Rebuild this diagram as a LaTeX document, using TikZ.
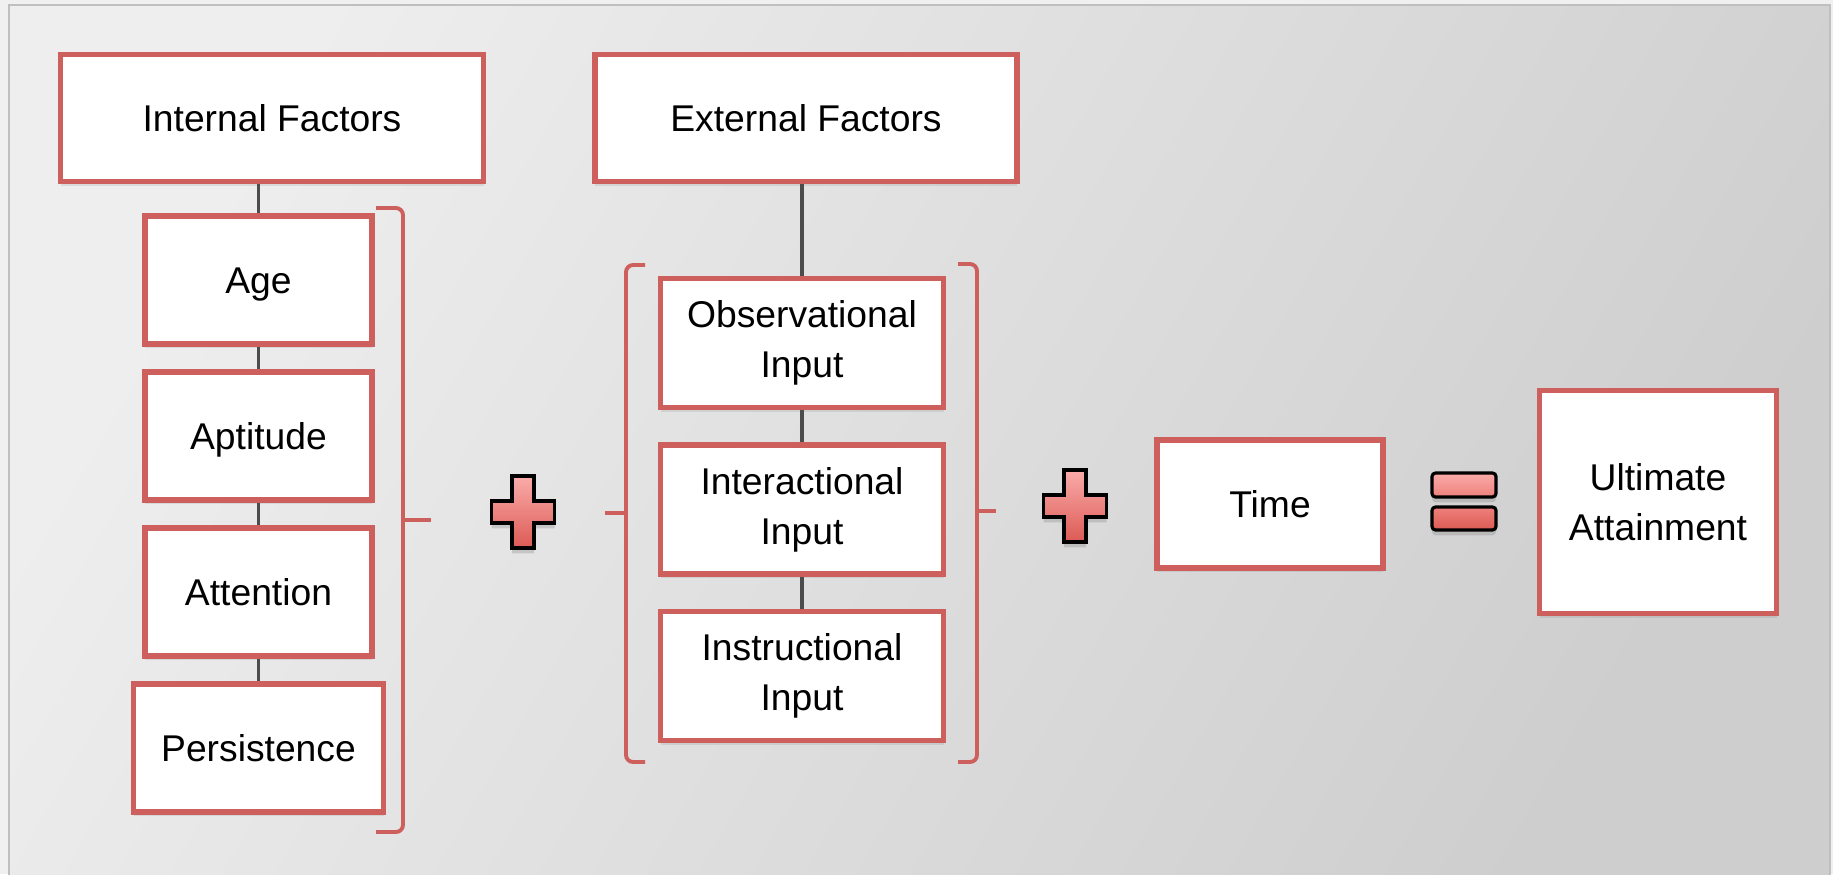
\documentclass[tikz,border=0pt]{standalone}
\usepackage{fontspec}
\setmainfont{Liberation Sans}
\usetikzlibrary{positioning, shadows}
\definecolor{boxred}{RGB}{205,96,92}
\definecolor{signtop}{RGB}{250,172,170}
\definecolor{signmid}{RGB}{238,128,124}
\definecolor{signbot}{RGB}{220,90,84}
\definecolor{bglight}{RGB}{238,238,238}
\definecolor{bgdark}{RGB}{206,206,206}
\tikzset{
	factor/.style={rectangle, draw=boxred, line width=1.5pt, fill=white, align=center,
		font=\fontsize{10.6}{14.2}\selectfont, minimum height=1.28cm,
		text height=9.2pt, text depth=1.7pt,
		drop shadow={shadow xshift=0pt, shadow yshift=-1.2pt, opacity=0.18}},
	twoline/.style={factor, text height=, text depth=},
	inputbox/.style={twoline, minimum width=2.83cm, minimum height=1.29cm},
	bracket/.style={draw=boxred, line width=1.1pt, rounded corners=2pt},
	link/.style={draw=black!70, line width=1pt},
	sign/.style={draw=black, line width=0.9pt,
		drop shadow={shadow xshift=0pt, shadow yshift=-1.5pt, opacity=0.3}}
}

\begin{document}
\begin{tikzpicture}[node distance=1.56cm]
		
		% Background panel
		\useasboundingbox (0,0) rectangle (18.33,-8.74);
		\fill[black!6] (0,0) rectangle (18.33,-8.74);
		\shade[top color=bglight, bottom color=bgdark, shading angle=60, draw=black!25, line width=0.4pt]
			(0.09,-0.05) rectangle (18.30,-8.80);
		
		% Internal factors column
		\node[factor, minimum width=4.23cm, minimum height=1.27cm] (internal) at (2.72,-1.18) {Internal Factors};
		\node[factor, minimum width=2.27cm] (age) at (2.585,-2.80) {Age};
		\node[factor, minimum width=2.27cm, below of=age] (aptitude) {Aptitude};
		\node[factor, minimum width=2.27cm, below of=aptitude] (attention) {Attention};
		\node[factor, minimum width=2.50cm, below of=attention] (persistence) {Persistence};
		
		% External factors column
		\node[factor, minimum width=4.22cm, minimum height=1.27cm] (external) at (8.06,-1.18) {External Factors};
		\node[inputbox] (observational) at (8.02,-3.43) {Observational\\Input};
		\node[inputbox, below of=observational, node distance=1.665cm] (interactional) {Interactional\\Input};
		\node[inputbox, below of=interactional, node distance=1.665cm] (instructional) {Instructional\\Input};
		
		% Time and result
		\node[factor, minimum width=2.26cm] (time) at (12.70,-5.04) {Time};
		\node[twoline, minimum width=2.37cm, minimum height=2.23cm] (ultimate) at (16.58,-5.02) {Ultimate\\Attainment};
		
		% Links inside the columns
		\draw[link] (internal.south -| age) -- (age.north);
		\draw[link] (age) -- (aptitude);
		\draw[link] (aptitude) -- (attention);
		\draw[link] (attention) -- (persistence);
		\draw[link] (external.south -| observational) -- (observational.north);
		\draw[link] (observational) -- (interactional);
		\draw[link] (interactional) -- (instructional);
		
		% Brackets
		\draw[bracket] (3.76,-2.08) -- (4.03,-2.08) -- (4.03,-8.32) -- (3.76,-8.32);
		\draw[bracket] (4.03,-5.20) -- (4.31,-5.20);
		\draw[bracket] (6.45,-2.65) -- (6.26,-2.65) -- (6.26,-7.62) -- (6.45,-7.62);
		\draw[bracket] (6.26,-5.13) -- (6.05,-5.13);
		\draw[bracket] (9.58,-2.64) -- (9.77,-2.64) -- (9.77,-7.62) -- (9.58,-7.62);
		\draw[bracket] (9.77,-5.11) -- (9.96,-5.11);
		
		% Plus signs
		\foreach \px/\py in {5.23/-5.12, 10.75/-5.06} {
			\draw[sign, top color=signtop, bottom color=signbot, shift={(\px,\py)}]
				(-0.11,0.36) -- (0.11,0.36) -- (0.11,0.11) -- (0.315,0.11) -- (0.315,-0.11)
				-- (0.11,-0.11) -- (0.11,-0.36) -- (-0.11,-0.36) -- (-0.11,-0.11)
				-- (-0.315,-0.11) -- (-0.315,0.11) -- (-0.11,0.11) -- cycle;
		}
		
		% Equals sign
		\draw[sign, rounded corners=1pt, top color=signtop, bottom color=signmid] (14.32,-4.73) rectangle (14.96,-4.97);
		\draw[sign, rounded corners=1pt, top color=signmid, bottom color=signbot] (14.32,-5.07) rectangle (14.96,-5.30);
		
	\end{tikzpicture}
\end{document}
